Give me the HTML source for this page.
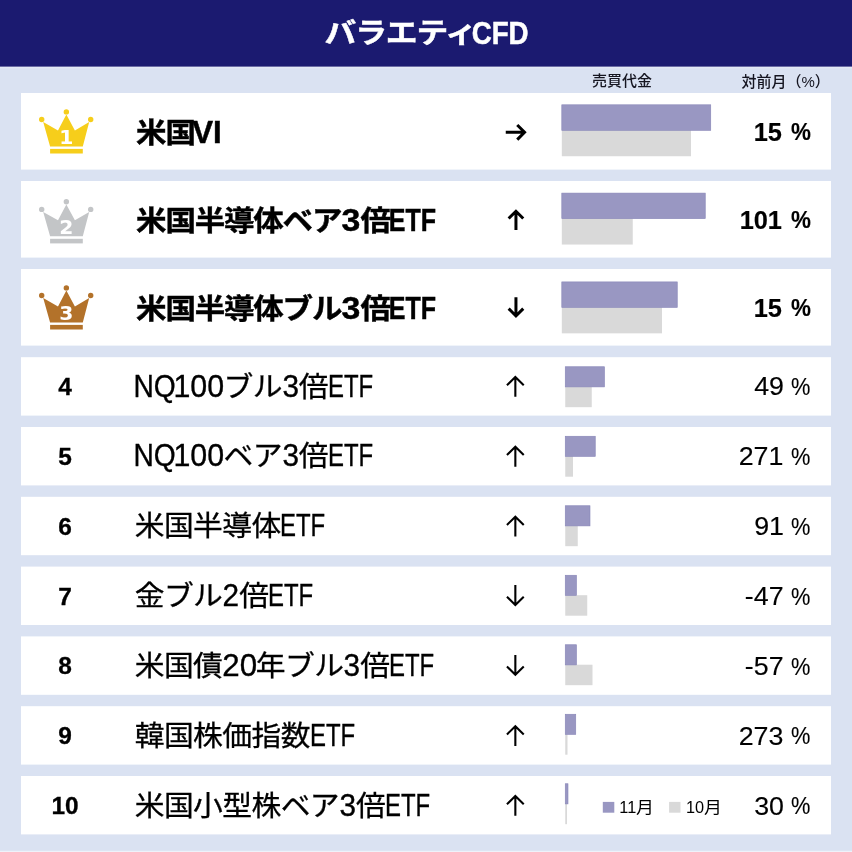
<!DOCTYPE html>
<html lang="ja"><head><meta charset="utf-8"><title>バラエティCFD</title>
<style>
html,body{margin:0;padding:0}
body{width:852px;height:852px;background:#dae2f2;position:relative;overflow:hidden;
 font-family:"Liberation Sans","Noto Sans CJK JP",sans-serif;color:#000}
svg.bg{position:absolute;left:0;top:0}
div{position:absolute;white-space:nowrap}
.hd{left:324px;top:0;height:66px;line-height:66px;color:#fff;font-weight:bold;font-size:30.6px;margin-top:1px;-webkit-text-stroke:0.5px #fff}
.ch{font-size:15px;line-height:20px;height:20px;font-weight:500;color:#151520}
.nm{left:134.4px;font-size:29.2px;margin-top:1.4px;-webkit-text-stroke:0.3px #000}
.nm .l{-webkit-text-stroke:0.35px #000}
.nm.b{left:135.5px;font-size:29.3px;margin-top:2.2px;-webkit-text-stroke:0.45px #000}
.nm.b .l{-webkit-text-stroke:0.45px #000}
.j{display:inline-block;font-size:29.8px;letter-spacing:-0.6px;margin:0 -0.3px 0 0.3px;transform:scaleY(.94)}
.b .j{font-size:30.5px;letter-spacing:-1.2px;margin:0 -0.6px 0 0.6px;transform:scaleY(.93)}
.hd .j{font-size:31.8px;letter-spacing:-1.2px;margin:0 -0.6px 0 0.6px;transform:scaleY(.895);transform-origin:50% 35%}
.b{font-weight:bold;-webkit-text-stroke:0.45px #000}
.l{display:inline-block;vertical-align:baseline;font-size:31.3px;line-height:1}
.l i{font-style:normal;display:inline-block;transform-origin:0 50%}
.rk{left:34.5px;width:60px;text-align:center;font-weight:bold;font-size:23.5px;transform:scaleX(1.04);margin-top:0.5px;-webkit-text-stroke:0.3px #000}
.cn{left:46.35px;width:40px;text-align:center;color:#fff;font-family:"DejaVu Sans","Liberation Sans",sans-serif;font-weight:bold;font-size:20.3px;line-height:20px;height:20px;top:0;margin-top:-0.4px}
.pc{left:700px;width:130px;font-size:26px;margin-top:0px;-webkit-text-stroke:0.15px #000}
.pc.b{font-size:25.4px;margin-top:0.9px}
.pc span{position:absolute;top:0;display:block}
.pd{right:46.2px;transform:scaleX(1.03);transform-origin:100% 50%}
.pp{left:91.3px;top:0.7px !important;font-size:24.2px;transform:scaleX(.9);transform-origin:0 50%}
.pc.b .pd{right:48px;transform:none}
.pc.b .pp{left:91.3px;top:0.6px !important;font-size:23.6px;transform:scaleX(.95)}
.mo{display:inline-block;transform:scaleX(1.1);transform-origin:0 50%}
.lg{top:796.8px;font-size:16.3px;line-height:20px;height:20px}
</style></head>
<body>
<svg class="bg" width="852" height="852" viewBox="0 0 852 852">
<rect x="0" y="66" width="852" height="2.4" fill="#e2e8f5"/><rect x="0" y="0" width="852" height="66.6" fill="#1b1a70"/><rect x="0" y="850.8" width="852" height="1.2" fill="#eef2fa"/>
<rect x="21" y="93.00" width="810" height="76.6" fill="#fff"/>
<rect x="561.8" y="130.15" width="129.20" height="26.099999999999998" fill="#d9d9d9"/>
<rect x="561.8" y="104.80" width="148.95" height="25.55" fill="#9997c2" stroke="#8785b7" stroke-width="0.6"/>
<path d="M505.75,132.30 H524.55 M517.25,125.00 L524.55,132.30 L517.25,139.60" fill="none" stroke="#000" stroke-width="3.0" stroke-linejoin="miter"/>
<g fill="#f6ce1b"><polygon points="43.20,122.00 50.10,146.45 82.80,146.45 89.20,122.00 74.90,130.40 66.35,114.50 58.00,130.40"/><circle cx="66.35" cy="111.90" r="2.7"/><circle cx="41.70" cy="119.50" r="2.7"/><circle cx="90.70" cy="119.50" r="2.7"/><rect x="50.10" y="148.90" width="32.7" height="4.6"/></g>
<rect x="21" y="181.00" width="810" height="76.6" fill="#fff"/>
<rect x="561.8" y="218.45" width="70.95" height="26.099999999999998" fill="#d9d9d9"/>
<rect x="561.8" y="193.10" width="143.45" height="25.55" fill="#9997c2" stroke="#8785b7" stroke-width="0.6"/>
<path d="M515.95,230.05 V211.25 M508.65,218.55 L515.95,211.25 L523.25,218.55" fill="none" stroke="#000" stroke-width="3.0" stroke-linejoin="miter"/>
<g fill="#c3c5c7"><polygon points="43.20,211.90 50.10,236.35 82.80,236.35 89.20,211.90 74.90,220.30 66.35,204.40 58.00,220.30"/><circle cx="66.35" cy="201.80" r="2.7"/><circle cx="41.70" cy="209.40" r="2.7"/><circle cx="90.70" cy="209.40" r="2.7"/><rect x="50.10" y="238.80" width="32.7" height="4.6"/></g>
<rect x="21" y="269.00" width="810" height="76.6" fill="#fff"/>
<rect x="561.8" y="307.25" width="100.20" height="26.099999999999998" fill="#d9d9d9"/>
<rect x="561.8" y="281.90" width="115.45" height="25.55" fill="#9997c2" stroke="#8785b7" stroke-width="0.6"/>
<path d="M515.95,297.15 V315.95 M508.65,308.65 L515.95,315.95 L523.25,308.65" fill="none" stroke="#000" stroke-width="3.0" stroke-linejoin="miter"/>
<g fill="#b3722a"><polygon points="43.20,298.00 50.10,322.45 82.80,322.45 89.20,298.00 74.90,306.40 66.35,290.50 58.00,306.40"/><circle cx="66.35" cy="287.90" r="2.7"/><circle cx="41.70" cy="295.50" r="2.7"/><circle cx="90.70" cy="295.50" r="2.7"/><rect x="50.10" y="324.90" width="32.7" height="4.6"/></g>
<rect x="21" y="357.20" width="810" height="58.4" fill="#fff"/>
<rect x="565.25" y="386.70" width="26.50" height="20.5" fill="#d9d9d9"/>
<rect x="565.25" y="366.75" width="39.25" height="20.15" fill="#9997c2" stroke="#8785b7" stroke-width="0.6"/>
<path d="M515.35,396.80 V377.00 M506.95,385.20 L515.35,377.00 L523.75,385.20" fill="none" stroke="#000" stroke-width="2.1" stroke-linejoin="miter"/>
<rect x="21" y="427.00" width="810" height="58.4" fill="#fff"/>
<rect x="565.25" y="456.20" width="7.75" height="20.5" fill="#d9d9d9"/>
<rect x="565.25" y="436.25" width="30.00" height="20.15" fill="#9997c2" stroke="#8785b7" stroke-width="0.6"/>
<path d="M515.35,466.64 V446.84 M506.95,455.04 L515.35,446.84 L523.75,455.04" fill="none" stroke="#000" stroke-width="2.1" stroke-linejoin="miter"/>
<rect x="21" y="496.80" width="810" height="58.4" fill="#fff"/>
<rect x="565.25" y="525.70" width="12.50" height="20.5" fill="#d9d9d9"/>
<rect x="565.25" y="505.75" width="24.75" height="20.15" fill="#9997c2" stroke="#8785b7" stroke-width="0.6"/>
<path d="M515.35,536.48 V516.68 M506.95,524.88 L515.35,516.68 L523.75,524.88" fill="none" stroke="#000" stroke-width="2.1" stroke-linejoin="miter"/>
<rect x="21" y="566.60" width="810" height="58.4" fill="#fff"/>
<rect x="565.25" y="595.20" width="22.00" height="20.5" fill="#d9d9d9"/>
<rect x="565.25" y="575.25" width="11.25" height="20.15" fill="#9997c2" stroke="#8785b7" stroke-width="0.6"/>
<path d="M515.35,585.12 V604.92 M506.95,596.72 L515.35,604.92 L523.75,596.72" fill="none" stroke="#000" stroke-width="2.1" stroke-linejoin="miter"/>
<rect x="21" y="636.40" width="810" height="58.4" fill="#fff"/>
<rect x="565.25" y="664.70" width="27.25" height="20.5" fill="#d9d9d9"/>
<rect x="565.25" y="644.75" width="11.25" height="20.15" fill="#9997c2" stroke="#8785b7" stroke-width="0.6"/>
<path d="M515.35,654.96 V674.76 M506.95,666.56 L515.35,674.76 L523.75,666.56" fill="none" stroke="#000" stroke-width="2.1" stroke-linejoin="miter"/>
<rect x="21" y="706.20" width="810" height="58.4" fill="#fff"/>
<rect x="565.25" y="734.20" width="2.25" height="20.5" fill="#d9d9d9"/>
<rect x="565.25" y="714.25" width="10.50" height="20.15" fill="#9997c2" stroke="#8785b7" stroke-width="0.6"/>
<path d="M515.35,746.00 V726.20 M506.95,734.40 L515.35,726.20 L523.75,734.40" fill="none" stroke="#000" stroke-width="2.1" stroke-linejoin="miter"/>
<rect x="21" y="776.00" width="810" height="58.4" fill="#fff"/>
<rect x="565.25" y="803.70" width="1.75" height="20.5" fill="#d9d9d9"/>
<rect x="565.25" y="783.75" width="2.75" height="20.15" fill="#9997c2" stroke="#8785b7" stroke-width="0.6"/>
<path d="M515.35,815.84 V796.04 M506.95,804.24 L515.35,796.04 L523.75,804.24" fill="none" stroke="#000" stroke-width="2.1" stroke-linejoin="miter"/>
<rect x="602.8" y="801.9" width="11.5" height="10.8" fill="#9997c2"/>
<rect x="669.1" y="801.9" width="11.4" height="10.8" fill="#d9d9d9"/>
</svg>
<div class="hd"><span class="j">バラエティ</span><span class="l" style="width:56px"><i style="transform:translate(-3.3px,-0.7px) scaleX(0.885)">CFD</i></span></div>
<div class="ch" style="left:592px;top:70.5px">売買代金</div>
<div class="ch" style="left:741.5px;top:72px">対前月（%）</div>
<div class="cn" style="top:127.5px">1</div>
<div class="nm b" style="top:93.0px;height:76.6px;line-height:76.6px"><span class="j">米国</span><span class="l" style="width:31px"><i style="transform:translate(-1.9px,-0.7px) scaleX(1.0)">VI</i></span></div>
<div class="pc b" style="top:93.0px;height:76.6px;line-height:76.6px"><span class="pd">15</span><span class="pp">%</span></div>
<div class="cn" style="top:217.4px">2</div>
<div class="nm b" style="top:181.0px;height:76.6px;line-height:76.6px"><span class="j">米国半導体ベア</span><span class="l" style="width:19.4px"><i style="transform:translate(0.4px,-0.7px) scaleX(1.08)">3</i></span><span class="j">倍</span><span class="l" style="width:48px"><i style="transform:translate(-0.2px,-0.7px) scaleX(0.8)">ETF</i></span></div>
<div class="pc b" style="top:181.0px;height:76.6px;line-height:76.6px"><span class="pd">101</span><span class="pp">%</span></div>
<div class="cn" style="top:303.5px">3</div>
<div class="nm b" style="top:269.0px;height:76.6px;line-height:76.6px"><span class="j">米国半導体ブル</span><span class="l" style="width:19.4px"><i style="transform:translate(0.4px,-0.7px) scaleX(1.08)">3</i></span><span class="j">倍</span><span class="l" style="width:48px"><i style="transform:translate(-0.2px,-0.7px) scaleX(0.8)">ETF</i></span></div>
<div class="pc b" style="top:269.0px;height:76.6px;line-height:76.6px"><span class="pd">15</span><span class="pp">%</span></div>
<div class="rk" style="top:357.2px;height:58.4px;line-height:58.4px">4</div>
<div class="nm" style="top:357.2px;height:58.4px;line-height:58.4px"><span class="l" style="width:41.5px"><i style="transform:translate(-0.5px,-0.7px) scaleX(0.9)">NQ</i></span><span class="l" style="width:47.3px"><i style="transform:translate(-2.6px,-0.7px) scaleX(0.97)">100</i></span><span class="j">ブル</span><span class="l" style="width:16.9px"><i style="transform:translate(0.6px,-0.7px) scaleX(0.95)">3</i></span><span class="j">倍</span><span class="l" style="width:42px"><i style="transform:translate(0px,-0.7px) scaleX(0.765)">ETF</i></span></div>
<div class="pc" style="top:357.2px;height:58.4px;line-height:58.4px"><span class="pd">49</span><span class="pp">%</span></div>
<div class="rk" style="top:427.1px;height:58.4px;line-height:58.4px">5</div>
<div class="nm" style="top:427.1px;height:58.4px;line-height:58.4px"><span class="l" style="width:41.5px"><i style="transform:translate(-0.5px,-0.7px) scaleX(0.9)">NQ</i></span><span class="l" style="width:47.3px"><i style="transform:translate(-2.6px,-0.7px) scaleX(0.97)">100</i></span><span class="j">ベア</span><span class="l" style="width:16.9px"><i style="transform:translate(0.6px,-0.7px) scaleX(0.95)">3</i></span><span class="j">倍</span><span class="l" style="width:42px"><i style="transform:translate(0px,-0.7px) scaleX(0.765)">ETF</i></span></div>
<div class="pc" style="top:427.1px;height:58.4px;line-height:58.4px"><span class="pd">271</span><span class="pp">%</span></div>
<div class="rk" style="top:497.1px;height:58.4px;line-height:58.4px">6</div>
<div class="nm" style="top:497.1px;height:58.4px;line-height:58.4px"><span class="j">米国半導体</span><span class="l" style="width:42px"><i style="transform:translate(0px,-0.7px) scaleX(0.765)">ETF</i></span></div>
<div class="pc" style="top:497.1px;height:58.4px;line-height:58.4px"><span class="pd">91</span><span class="pp">%</span></div>
<div class="rk" style="top:567.0px;height:58.4px;line-height:58.4px">7</div>
<div class="nm" style="top:567.0px;height:58.4px;line-height:58.4px"><span class="j">金ブル</span><span class="l" style="width:16.9px"><i style="transform:translate(0.6px,-0.7px) scaleX(0.95)">2</i></span><span class="j">倍</span><span class="l" style="width:42px"><i style="transform:translate(0px,-0.7px) scaleX(0.765)">ETF</i></span></div>
<div class="pc" style="top:567.0px;height:58.4px;line-height:58.4px"><span class="pd">-47</span><span class="pp">%</span></div>
<div class="rk" style="top:636.9px;height:58.4px;line-height:58.4px">8</div>
<div class="nm" style="top:636.9px;height:58.4px;line-height:58.4px"><span class="j">米国債</span><span class="l" style="width:33.5px"><i style="transform:translate(0.3px,-0.7px) scaleX(1.0)">20</i></span><span class="j">年ブル</span><span class="l" style="width:16.9px"><i style="transform:translate(0.6px,-0.7px) scaleX(0.95)">3</i></span><span class="j">倍</span><span class="l" style="width:42px"><i style="transform:translate(0px,-0.7px) scaleX(0.765)">ETF</i></span></div>
<div class="pc" style="top:636.9px;height:58.4px;line-height:58.4px"><span class="pd">-57</span><span class="pp">%</span></div>
<div class="rk" style="top:706.8px;height:58.4px;line-height:58.4px">9</div>
<div class="nm" style="top:706.8px;height:58.4px;line-height:58.4px"><span class="j">韓国株価指数</span><span class="l" style="width:42px"><i style="transform:translate(0px,-0.7px) scaleX(0.765)">ETF</i></span></div>
<div class="pc" style="top:706.8px;height:58.4px;line-height:58.4px"><span class="pd">273</span><span class="pp">%</span></div>
<div class="rk" style="top:776.8px;height:58.4px;line-height:58.4px">10</div>
<div class="nm" style="top:776.8px;height:58.4px;line-height:58.4px"><span class="j">米国小型株ベア</span><span class="l" style="width:16.9px"><i style="transform:translate(0.6px,-0.7px) scaleX(0.95)">3</i></span><span class="j">倍</span><span class="l" style="width:42px"><i style="transform:translate(0px,-0.7px) scaleX(0.765)">ETF</i></span></div>
<div class="pc" style="top:776.8px;height:58.4px;line-height:58.4px"><span class="pd">30</span><span class="pp">%</span></div>
<div class="lg" style="left:619.3px">11<span class="mo">月</span></div>
<div class="lg" style="left:686px">10<span class="mo">月</span></div>
</body></html>
